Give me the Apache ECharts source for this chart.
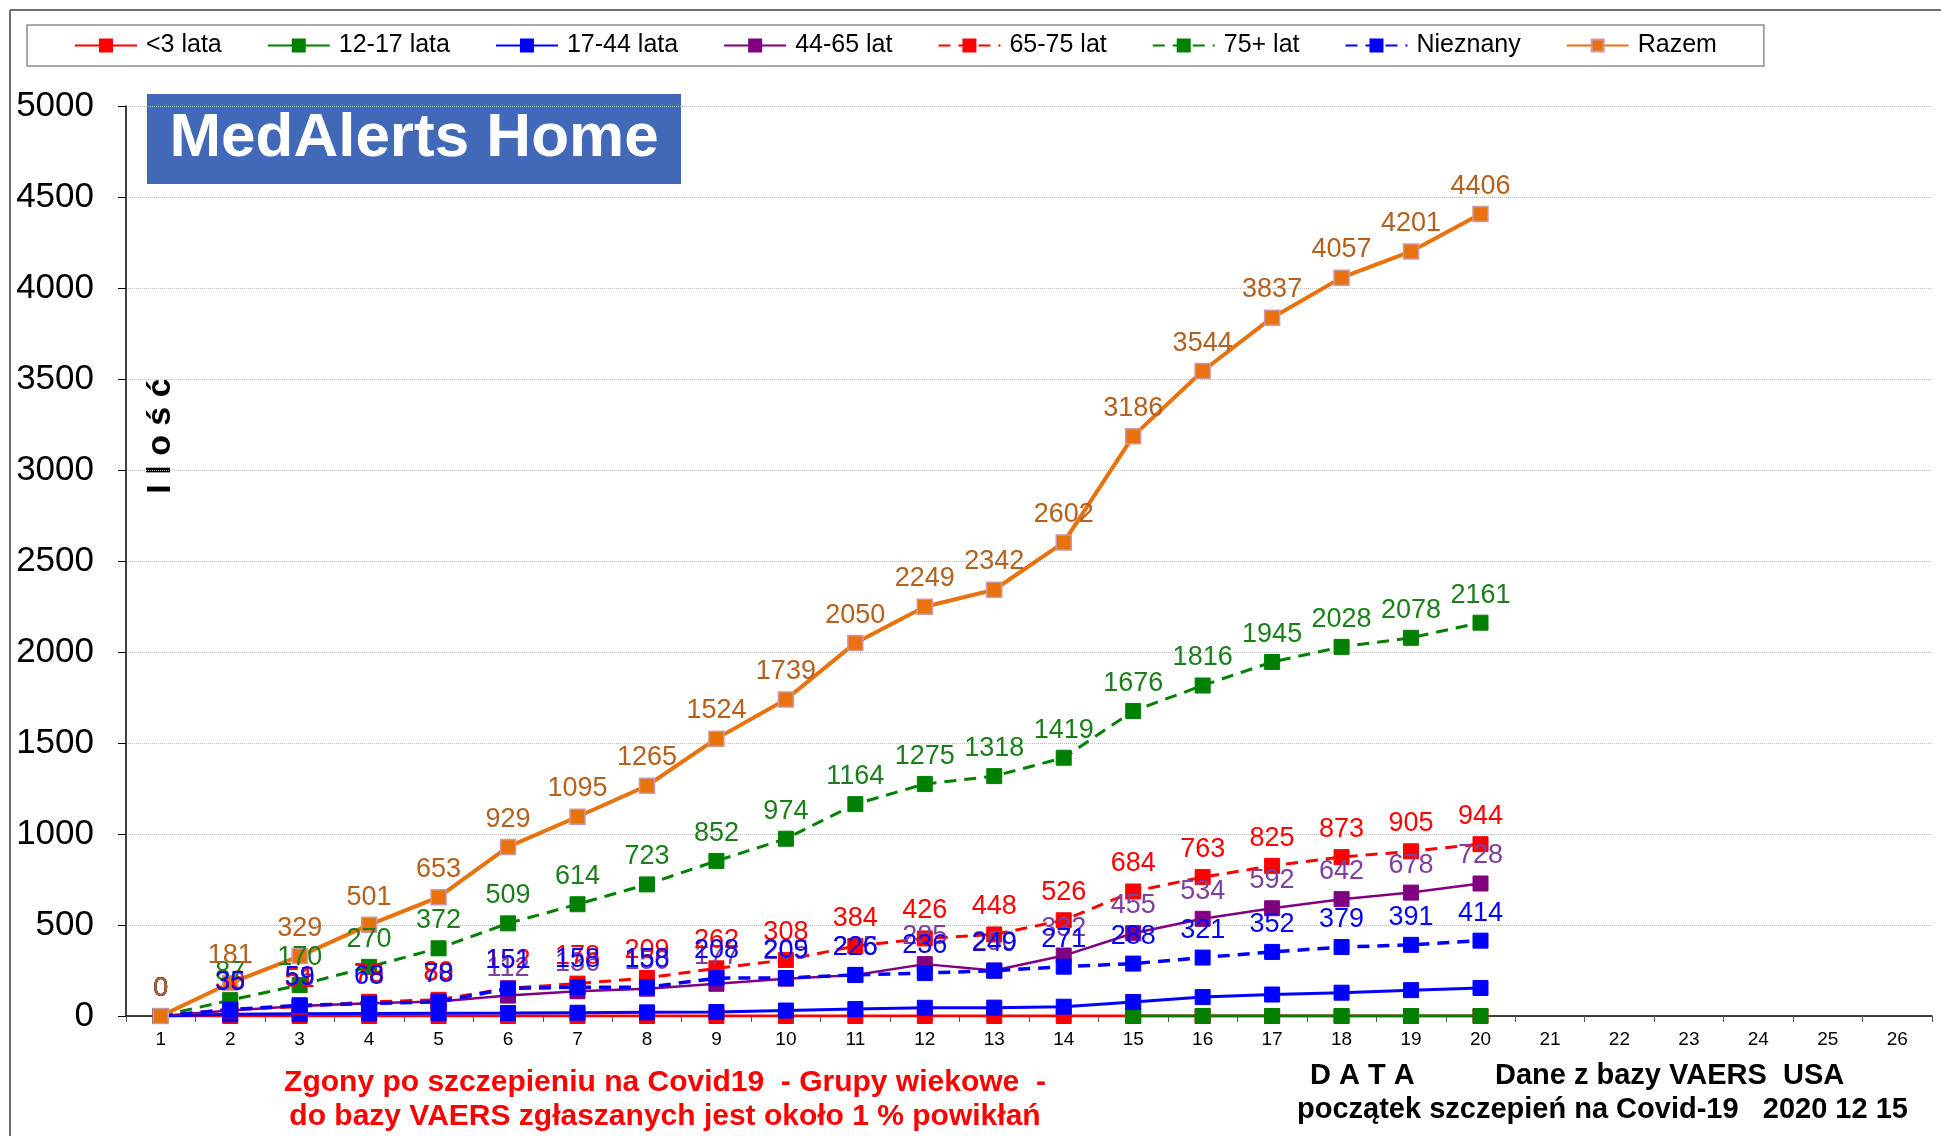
<!DOCTYPE html>
<html>
<head>
<meta charset="UTF-8">
<title>Zgony po szczepieniu - grupy wiekowe</title>
<script src="https://cdn.jsdelivr.net/npm/echarts@6/dist/echarts.min.js"></script>
<style>
  html, body { margin: 0; padding: 0; background: #fff; }
</style>
</head>
<body>
<div id="main" style="width: 1941px; height: 1136px;"></div>

<script type="text/javascript">
var FONT = "'Liberation Sans', Arial, sans-serif";

// dni 1..26 (dane tylko do dnia 20)
var days = [];
for (var d = 1; d <= 26; d++) days.push(String(d));

var under3 = [0, 0, 0, 0, 0, 0, 0, 0, 0, 0, 0, 0, 0, 0, 0, 0, 0, 0, 0, 0];
var age12_17 = [null, null, null, null, null, null, null, null, null, null, null, null, null, null, 0, 0, 0, 0, 0, 0];
var age17_44 = [0, 10, 12, 14, 15, 16, 18, 20, 22, 30, 38, 45, 46, 51, 77, 104, 118, 128, 142, 154];
var age44_65 = [0, 30, 55, 70, 80, 112, 136, 150, 177, 205, 225, 285, 250, 332, 455, 534, 592, 642, 678, 728];
var age65_75 = [0, 36, 51, 78, 89, 152, 178, 209, 262, 308, 384, 426, 448, 526, 684, 763, 825, 873, 905, 944];
var age75plus = [0, 87, 170, 270, 372, 509, 614, 723, 852, 974, 1164, 1275, 1318, 1419, 1676, 1816, 1945, 2028, 2078, 2161];
var unknown = [0, 35, 59, 68, 78, 151, 158, 158, 208, 209, 226, 236, 249, 271, 288, 321, 352, 379, 391, 414];
var total = [0, 181, 329, 501, 653, 929, 1095, 1265, 1524, 1739, 2050, 2249, 2342, 2602, 3186, 3544, 3837, 4057, 4201, 4406];

function mkSeries(name, data, color, dashed, labelColor, width) {
  return {
    name: name,
    type: 'line',
    data: data,
    symbol: 'rect',
    symbolSize: 15,
    connectNulls: false,
    lineStyle: { color: color, width: width || 3, type: dashed ? [12, 8] : 'solid' },
    itemStyle: { color: color, borderColor: color, borderWidth: 1 },
    label: {
      show: !!labelColor,
      position: 'top',
      distance: 6,
      color: labelColor,
      fontSize: 27,
      fontFamily: FONT
    },
    emphasis: { disabled: true },
    animation: false
  };
}

var myChart = echarts.init(document.getElementById('main'));
myChart.setOption({
  backgroundColor: '#fff',
  textStyle: { fontFamily: FONT },
  legend: {
    left: 27,
    top: 25,
    padding: [8, 47, 8, 47],
    itemGap: 45,
    itemWidth: 62,
    itemHeight: 15,
    borderColor: '#8c8c8c',
    borderWidth: 1.5,
    textStyle: { fontSize: 25, color: '#000', fontFamily: FONT, padding: [0, 0, 0, 4] }
  },
  grid: { left: 126, right: 9, top: 106, bottom: 120 },
  xAxis: {
    type: 'category',
    data: days,
    boundaryGap: true,
    axisLine: { lineStyle: { color: '#000', width: 1.5 } },
    axisTick: { show: true, length: 6, lineStyle: { color: '#555' } },
    axisLabel: { fontSize: 19, color: '#000', margin: 14, fontFamily: FONT }
  },
  yAxis: {
    type: 'value',
    min: 0,
    max: 5000,
    interval: 500,
    axisLine: { show: true, lineStyle: { color: '#000', width: 1.5 } },
    axisTick: { show: true, length: 8, lineStyle: { color: '#000' } },
    axisLabel: { fontSize: 35, color: '#000', margin: 32, fontFamily: FONT, formatter: function (v) { return String(v); } },
    splitLine: { lineStyle: { color: '#c0c0c0', type: 'dotted', width: 1 } }
  },
  graphic: [
    { type: 'line', silent: true, shape: { x1: 10, y1: 10, x2: 1941, y2: 10 }, style: { stroke: '#6e6e6e', lineWidth: 2 } },
    { type: 'line', silent: true, shape: { x1: 10, y1: 10, x2: 10, y2: 1136 }, style: { stroke: '#6e6e6e', lineWidth: 2 } },
    { type: 'rect', silent: true, shape: { x: 147, y: 94, width: 534, height: 90 }, style: { fill: '#4169b8' } },
    { type: 'text', silent: true, x: 414, y: 139, style: { text: 'MedAlerts Home', fill: '#fff', font: 'bold 62px ' + FONT, textAlign: 'center', textVerticalAlign: 'middle' } },
    { type: 'text', silent: true, x: 161, y: 436, rotation: Math.PI / 2, style: { text: 'I l o ś ć', fill: '#000', font: 'bold 34px ' + FONT, textAlign: 'center', textVerticalAlign: 'middle' } },
    { type: 'text', silent: true, x: 665, y: 1083, style: { text: 'Zgony po szczepieniu na Covid19  - Grupy wiekowe  -', fill: '#ff0000', font: 'bold 30px ' + FONT, textAlign: 'center', textVerticalAlign: 'middle' } },
    { type: 'text', silent: true, x: 665, y: 1117, style: { text: 'do bazy VAERS zgłaszanych jest około 1 % powikłań', fill: '#ff0000', font: 'bold 30px ' + FONT, textAlign: 'center', textVerticalAlign: 'middle' } },
    { type: 'text', silent: true, x: 1310, y: 1076, style: { text: 'D A T A', fill: '#000', font: 'bold 29px ' + FONT, textAlign: 'left', textVerticalAlign: 'middle' } },
    { type: 'text', silent: true, x: 1495, y: 1076, style: { text: 'Dane z bazy VAERS  USA', fill: '#000', font: 'bold 29px ' + FONT, textAlign: 'left', textVerticalAlign: 'middle' } },
    { type: 'text', silent: true, x: 1297, y: 1110, style: { text: 'początek szczepień na Covid-19   2020 12 15', fill: '#000', font: 'bold 29px ' + FONT, textAlign: 'left', textVerticalAlign: 'middle' } }
  ],
  series: [
    mkSeries('<3 lata', under3, '#ff0000', false, null, 3),
    mkSeries('12-17 lata', age12_17, '#008000', false, null, 3),
    mkSeries('17-44 lata', age17_44, '#0000ff', false, null, 3),
    mkSeries('44-65 lat', age44_65, '#800080', false, '#7f3fa0', 2.5),
    mkSeries('65-75 lat', age65_75, '#ff0000', true, '#ff0000', 3),
    mkSeries('75+ lat', age75plus, '#008000', true, '#1a7f1a', 3),
    mkSeries('Nieznany', unknown, '#0000ff', true, '#0000ff', 3.5),
    (function () {
      var s = mkSeries('Razem', total, '#e8720c', false, '#b5601c', 4);
      s.itemStyle = { color: '#e8720c', borderColor: '#c79aa8', borderWidth: 1.5 };
      return s;
    })()
  ]
});
</script>
</body>
</html>
